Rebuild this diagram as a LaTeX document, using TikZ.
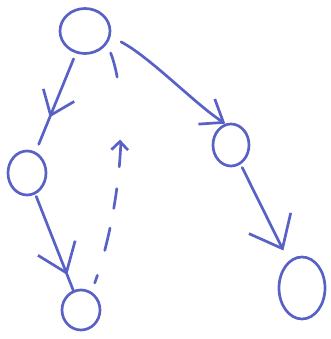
\documentclass[tikz,border=0pt]{standalone}
\usetikzlibrary{arrows.meta,decorations.markings,shapes.geometric}
\definecolor{Tinta}{HTML}{5862C6}

\begin{document}
\begin{tikzpicture}[
  x=0.03cm,y=0.03cm,
  estado/.style={ellipse,draw=Tinta,line width=2.3pt,inner sep=0pt},
  trazo/.style={draw=Tinta,line width=2.3pt,line cap=round,line join=round},
  punta/.style 2 args={-{Straight Barb[length=#1,width=#2]}},
  flechamedia/.style n args={3}{postaction={decorate},
    decoration={markings,mark=at position #1 with
      {\arrow[Tinta,solid,line width=2.3pt]{Straight Barb[length=#2,width=#3]}}}}
]
  \useasboundingbox (0,0) rectangle (330,339);

  % estados dibujados a mano
  \node[estado,minimum width=1.5cm,minimum height=1.35cm] (raiz) at (85,308) {};
  \node[estado,minimum width=1.14cm,minimum height=1.32cm] (izq) at (27,166) {};
  \node[estado,minimum width=1.08cm,minimum height=1.26cm] (der) at (231,194) {};
  \node[estado,minimum width=1.14cm,minimum height=1.2cm] (hojaizq) at (81,29) {};
  \node[estado,minimum width=1.38cm,minimum height=1.86cm] (hojader) at (302,51) {};

  % rama izquierda
  \draw[trazo,shorten <=5pt,shorten >=7pt,flechamedia={0.65}{6.5mm}{10mm}]
    (raiz) -- (izq);
  \draw[trazo,shorten <=2pt,flechamedia={0.84}{8mm}{12mm}]
    (izq) -- (hojaizq);

  % rama derecha
  \draw[trazo,shorten <=10pt,punta={6mm}{9mm}]
    (raiz.-12) .. controls (150,282) and (195,235) .. (der.105);
  \draw[trazo,shorten <=3pt,shorten >=10pt,punta={8.5mm}{14mm}]
    (der) -- (hojader);

  % retorno punteado
  \draw[trazo,shorten <=8pt,shorten >=8pt,
    dash pattern=on 0.24cm off 0.78cm on 0.69cm off 0.6cm on 0.6cm off 0.66cm on 0.75cm off 1.95cm on 0.75cm,
    flechamedia={0.615}{2.5mm}{5mm}]
    (hojaizq.60) .. controls (118,120) and (132,230) .. (raiz.-30);
\end{tikzpicture}
\end{document}
